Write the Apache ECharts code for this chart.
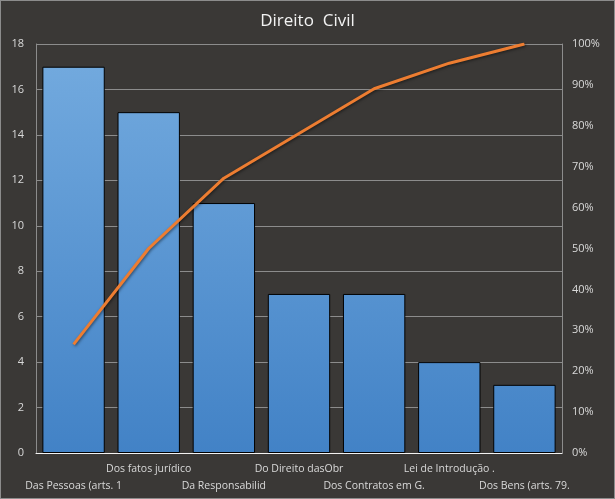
<!DOCTYPE html>
<html>
<head>
<meta charset="utf-8">
<script src="https://cdn.jsdelivr.net/npm/echarts@6/dist/echarts.min.js"></script>
<style>
html,body{margin:0;padding:0;background:#3a3836;}
#c{width:613px;height:497px;border:1px solid #8c8c8c;background:#3a3836;}
</style>
</head>
<body>
<div id="c"></div>
<script>
var categories = ["Das Pessoas (arts. 1", "Dos fatos jurídico", "Da Responsabilid", "Do Direito dasObr", "Dos Contratos em G.", "Lei de Introdução .", "Dos Bens (arts. 79."];
var counts = [17, 15, 11, 7, 7, 4, 3];
var leftTicks = {min: 0, max: 18, interval: 2};
var rightTicks = {min: 0, max: 1, interval: 0.1};

var total = counts.reduce(function(a, b){ return a + b; }, 0);
var cumulative = [];
var run = 0;
for (var i = 0; i < counts.length; i++) { run += counts[i]; cumulative.push(run / total); }

var txt = '#d9d9d9';
var chart = echarts.init(document.getElementById('c'));
chart.setOption({
  backgroundColor: '#3a3836',
  animation: false,
  title: {
    text: 'Direito  Civil', left: 'center', top: 7,
    textStyle: {color: '#f2f2f2', fontSize: 17, fontWeight: 'normal', fontFamily: 'Open Sans'}
  },
  grid: {left: 35, right: 52, top: 43, bottom: 45},
  xAxis: {
    type: 'category', data: categories,
    axisLine: {lineStyle: {color: '#f2f2f2', width: 1}},
    axisTick: {show: false},
    axisLabel: {
      interval: 0, color: txt, fontSize: 10.5, fontFamily: 'Open Sans', margin: 8, lineHeight: 17,
      formatter: function(v, idx){ return idx % 2 === 0 ? '\n' + v : v; }
    }
  },
  yAxis: [{
    type: 'value', min: leftTicks.min, max: leftTicks.max, interval: leftTicks.interval,
    axisLine: {show: true, lineStyle: {color: '#8c8c8c'}},
    axisTick: {show: false},
    splitLine: {lineStyle: {color: '#8c8c8c', width: 1}},
    axisLabel: {color: txt, fontSize: 11, fontFamily: 'Open Sans', margin: 12}
  }, {
    type: 'value', min: rightTicks.min, max: rightTicks.max, interval: rightTicks.interval,
    axisLine: {show: true, lineStyle: {color: '#8c8c8c'}},
    axisTick: {show: false},
    splitLine: {show: false},
    axisLabel: {color: txt, fontSize: 11, fontFamily: 'Open Sans', margin: 10,
      formatter: function(v){ return Math.round(v * 100) + '%'; }}
  }],
  series: [{
    type: 'bar', data: counts, yAxisIndex: 0, barCategoryGap: '17%',
    itemStyle: {
      borderColor: '#000', borderWidth: 1,
      color: new echarts.graphic.LinearGradient(0, 44, 0, 453, [
        {offset: 0, color: '#74abdf'}, {offset: 1, color: '#4282c6'}
      ], true)
    }
  }, {
    type: 'line', data: cumulative, yAxisIndex: 1, showSymbol: false, symbol: 'none',
    lineStyle: {color: '#ed7d31', width: 3, shadowColor: 'rgba(0,0,0,0.5)', shadowBlur: 3, shadowOffsetX: 1, shadowOffsetY: 1}
  }]
});
</script>
</body>
</html>
